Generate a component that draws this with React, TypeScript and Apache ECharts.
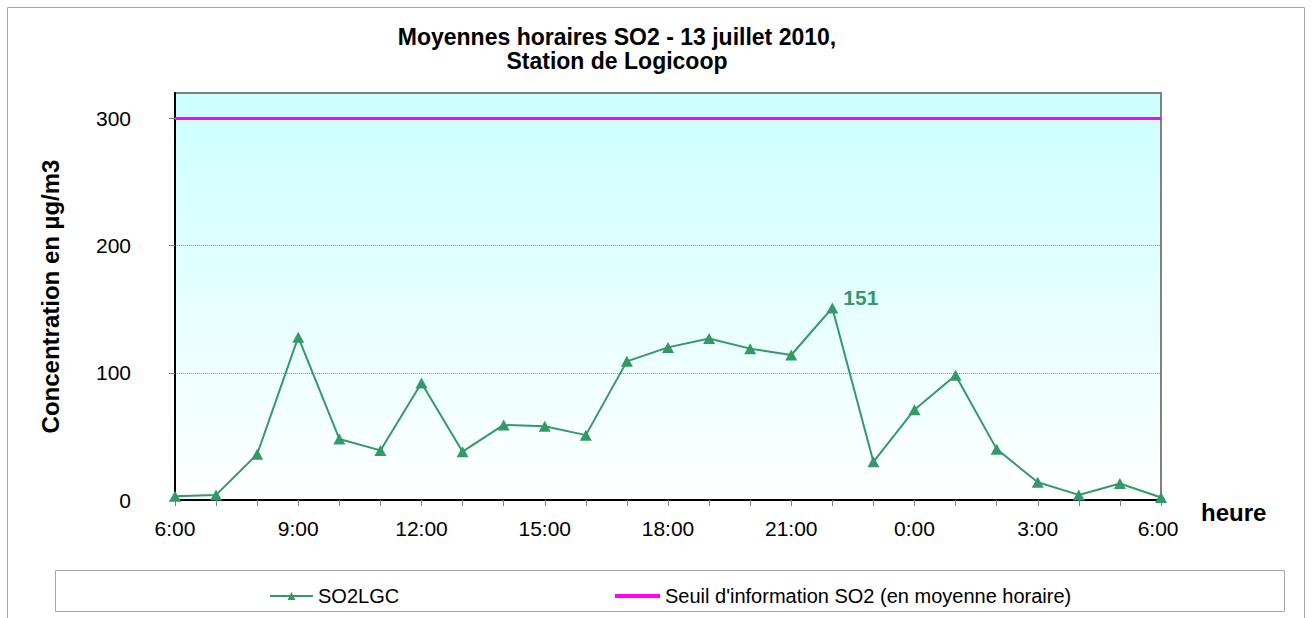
import React, { useEffect, useRef } from "react";
import * as echarts from "echarts";

const hours = [
  "6:00", "7:00", "8:00", "9:00", "10:00", "11:00", "12:00", "13:00", "14:00",
  "15:00", "16:00", "17:00", "18:00", "19:00", "20:00", "21:00", "22:00", "23:00",
  "0:00", "1:00", "2:00", "3:00", "4:00", "5:00", "6:00 ",
];
const so2lgc = [3, 4, 36, 128, 48, 39, 92, 38, 59, 58, 51, 109, 120, 127, 119, 114, 151, 30, 71, 98, 40, 14, 4, 13, 2];
const seuil = [300, 300, 300, 300, 300, 300, 300, 300, 300, 300, 300, 300, 300, 300, 300, 300, 300, 300, 300, 300, 300, 300, 300, 300, 300];
const yTicks = [0, 100, 200, 300];
const labelledIndex = 16;

const FONT = "Liberation Sans, Arial, sans-serif";
const GREEN = "#339966";

export default function App() {
  const ref = useRef<HTMLDivElement>(null);
  useEffect(() => {
    if (!ref.current) return;
    const chart = echarts.init(ref.current, null, { renderer: "svg" });
    chart.setOption({
      animation: false,
      backgroundColor: "#ffffff",
      textStyle: { fontFamily: FONT },
      title: {
        text: "Moyennes horaires SO2 - 13 juillet 2010,\nStation de Logicoop",
        left: 612,
        top: 20,
        textAlign: "center",
        textStyle: { fontFamily: FONT, fontSize: 23, fontWeight: "bold", color: "#000", lineHeight: 24 },
      },
      grid: {
        left: 175,
        right: 152,
        top: 93,
        bottom: 118,
        show: true,
        borderColor: "#808080",
        borderWidth: 2,
        backgroundColor: {
          type: "linear", x: 0, y: 0, x2: 0, y2: 1,
          colorStops: [
            { offset: 0, color: "#ccffff" },
            { offset: 1, color: "#ffffff" },
          ],
        },
      },
      legend: [
        {
          data: ["SO2LGC"],
          left: 264,
          top: 581,
          itemWidth: 43,
          itemHeight: 10,
          itemGap: 5,
          textStyle: { fontFamily: FONT, fontSize: 20, color: "#000" },
        },
        {
          data: ["Seuil d'information SO2 (en moyenne horaire)"],
          left: 610,
          top: 581,
          icon: "rect",
          itemWidth: 45,
          itemHeight: 4,
          itemGap: 5,
          textStyle: { fontFamily: FONT, fontSize: 20, color: "#000" },
        },
      ],
      xAxis: {
        type: "category",
        data: hours,
        boundaryGap: false,
        name: "heure",
        nameLocation: "end",
        nameGap: 40,
        nameTextStyle: { fontFamily: FONT, fontSize: 24, fontWeight: "bold", color: "#000", align: "left", verticalAlign: "top", padding: [0, 0, 0, 0] },
        axisLine: { lineStyle: { color: "#000", width: 2 } },
        axisTick: { interval: 0, length: 6, lineStyle: { color: "#808080" } },
        axisLabel: { interval: 2, margin: 18, fontFamily: FONT, fontSize: 21, color: "#000" },
        splitLine: { show: false },
      },
      yAxis: {
        type: "value",
        min: 0,
        max: 320,
        interval: 100,
        name: "Concentration en µg/m3",
        nameLocation: "middle",
        nameRotate: 90,
        nameGap: 113,
        nameTextStyle: { fontFamily: FONT, fontSize: 24, fontWeight: "bold", color: "#000" },
        axisLine: { show: true, lineStyle: { color: "#000", width: 2 } },
        axisTick: { show: true, length: 6, customValues: yTicks, lineStyle: { color: "#808080" } },
        axisLabel: { customValues: yTicks, margin: 44, fontFamily: FONT, fontSize: 21, color: "#000" },
        splitLine: { show: true, lineStyle: { color: "#909090", width: 1, type: "dotted" } },
      },
      series: [
        {
          name: "SO2LGC",
          type: "line",
          data: so2lgc.map((v, i) =>
            i === labelledIndex
              ? {
                  value: v,
                  label: {
                    show: true,
                    position: "right",
                    distance: 5,
                    offset: [0, -10],
                    fontFamily: FONT,
                    fontSize: 21,
                    fontWeight: "bold",
                    color: GREEN,
                  },
                }
              : v
          ),
          symbol: "triangle",
          symbolSize: [12, 11],
          color: GREEN,
          itemStyle: { color: GREEN },
          lineStyle: { color: GREEN, width: 2 },
          z: 3,
        },
        {
          name: "Seuil d'information SO2 (en moyenne horaire)",
          type: "line",
          data: seuil,
          symbol: "none",
          color: "#ff00ff",
          lineStyle: { color: "#ff00ff", width: 3 },
          z: 2,
        },
      ],
      graphic: [
        {
          type: "rect",
          shape: { x: 7.5, y: 7.5, width: 1297, height: 630 },
          style: { fill: "none", stroke: "#a6a6a6", lineWidth: 1 },
          silent: true,
        },
        {
          type: "rect",
          shape: { x: 55.5, y: 570.5, width: 1229, height: 41 },
          style: { fill: "none", stroke: "#a6a6a6", lineWidth: 1 },
          silent: true,
        },
      ],
    });
    return () => chart.dispose();
  }, []);
  return (
    <div
      ref={ref}
      style={{ position: "absolute", left: 0, top: 0, width: 1313, height: 618 }}
    />
  );
}
